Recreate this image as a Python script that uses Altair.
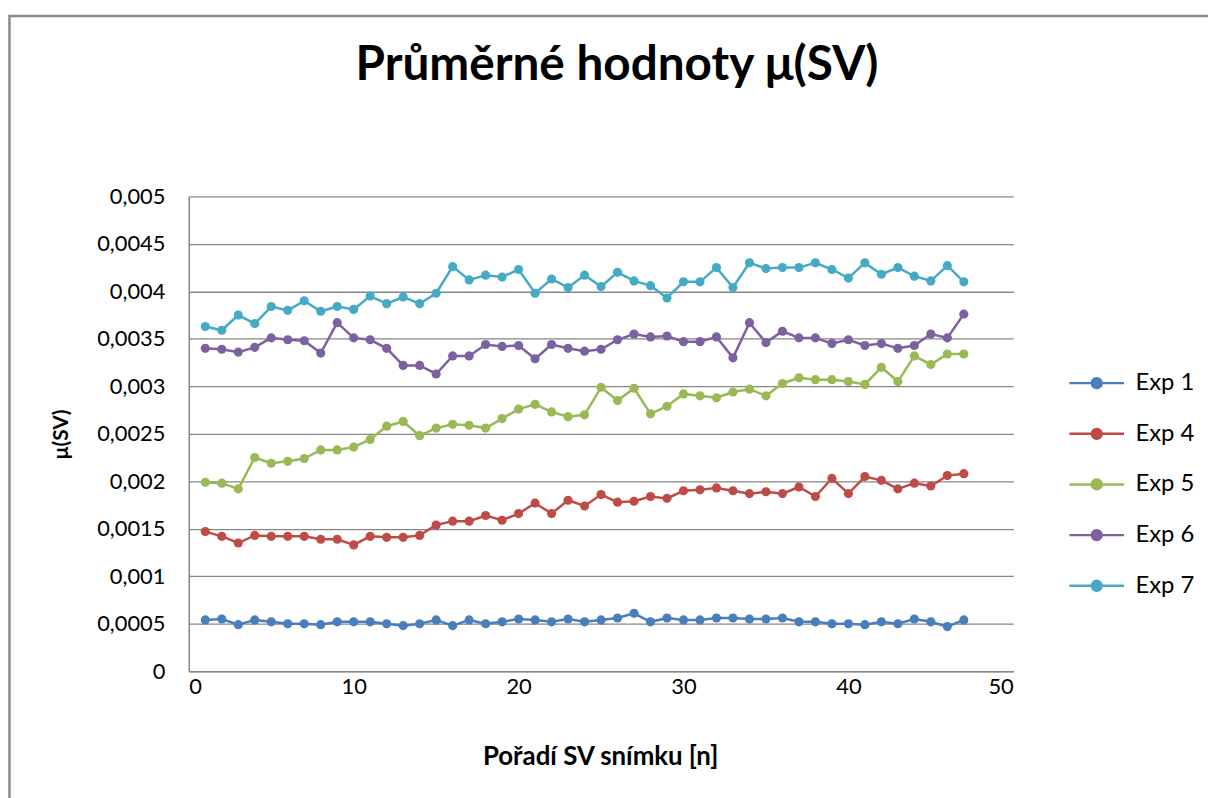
import altair as alt
import pandas as pd

frames = list(range(1, 48))

exp1 = [0.00054, 0.00055, 0.00049, 0.00054, 0.00052, 0.00050, 0.00050, 0.00049, 0.00052, 0.00052,
        0.00052, 0.00050, 0.00048, 0.00050, 0.00054, 0.00048, 0.00054, 0.00050, 0.00052, 0.00055,
        0.00054, 0.00052, 0.00055, 0.00052, 0.00054, 0.00056, 0.00061, 0.00052, 0.00056, 0.00054,
        0.00054, 0.00056, 0.00056, 0.00055, 0.00055, 0.00056, 0.00052, 0.00052, 0.00050, 0.00050,
        0.00049, 0.00052, 0.00050, 0.00055, 0.00052, 0.00047, 0.00054]
exp4 = [0.00147, 0.00142, 0.00135, 0.00143, 0.00142, 0.00142, 0.00142, 0.00139, 0.00139, 0.00133,
        0.00142, 0.00141, 0.00141, 0.00143, 0.00154, 0.00158, 0.00158, 0.00164, 0.00159, 0.00166,
        0.00177, 0.00166, 0.00180, 0.00174, 0.00186, 0.00178, 0.00179, 0.00184, 0.00182, 0.00190,
        0.00191, 0.00193, 0.00190, 0.00187, 0.00189, 0.00187, 0.00194, 0.00184, 0.00203, 0.00187,
        0.00205, 0.00201, 0.00192, 0.00198, 0.00195, 0.00206, 0.00208]
exp5 = [0.00199, 0.00198, 0.00192, 0.00225, 0.00219, 0.00221, 0.00224, 0.00233, 0.00233, 0.00236,
        0.00244, 0.00258, 0.00263, 0.00248, 0.00256, 0.00260, 0.00259, 0.00256, 0.00266, 0.00276,
        0.00281, 0.00273, 0.00268, 0.00270, 0.00299, 0.00285, 0.00298, 0.00271, 0.00279, 0.00292,
        0.00290, 0.00288, 0.00294, 0.00297, 0.00290, 0.00303, 0.00309, 0.00307, 0.00307, 0.00305,
        0.00302, 0.00320, 0.00305, 0.00332, 0.00323, 0.00334, 0.00334]
exp6 = [0.00340, 0.00339, 0.00336, 0.00341, 0.00351, 0.00349, 0.00348, 0.00335, 0.00367, 0.00351,
        0.00349, 0.00340, 0.00322, 0.00322, 0.00313, 0.00332, 0.00332, 0.00344, 0.00342, 0.00343,
        0.00329, 0.00344, 0.00340, 0.00337, 0.00339, 0.00349, 0.00355, 0.00352, 0.00353, 0.00347,
        0.00347, 0.00352, 0.00330, 0.00367, 0.00346, 0.00358, 0.00351, 0.00351, 0.00345, 0.00349,
        0.00343, 0.00345, 0.00340, 0.00343, 0.00355, 0.00351, 0.00376]
exp7 = [0.00363, 0.00359, 0.00375, 0.00366, 0.00384, 0.00380, 0.00390, 0.00379, 0.00384, 0.00381,
        0.00395, 0.00387, 0.00394, 0.00387, 0.00398, 0.00426, 0.00412, 0.00417, 0.00415, 0.00423,
        0.00398, 0.00413, 0.00404, 0.00417, 0.00405, 0.00420, 0.00411, 0.00406, 0.00393, 0.00410,
        0.00410, 0.00425, 0.00404, 0.00430, 0.00424, 0.00425, 0.00425, 0.00430, 0.00423, 0.00414,
        0.00430, 0.00418, 0.00425, 0.00416, 0.00411, 0.00427, 0.00410]

series_names = ["Exp 1", "Exp 4", "Exp 5", "Exp 6", "Exp 7"]
series_values = [exp1, exp4, exp5, exp6, exp7]
series_colors = ["#4A7EBB", "#BE4B48", "#98B954", "#7D60A0", "#46AAC5"]

y_ticks = [0, 0.0005, 0.001, 0.0015, 0.002, 0.0025, 0.003, 0.0035, 0.004, 0.0045, 0.005]
x_ticks = [0, 10, 20, 30, 40, 50]

rows = []
for name, vals in zip(series_names, series_values):
    for f, v in zip(frames, vals):
        rows.append({"frame": f, "value": v, "series": name})
df = pd.DataFrame(rows)

FONT = "Lato"
W, H = 830, 478

legend_path = "M-2,0L2,0M-0.36,0A0.36,0.36 0 1,0 0.36,0A0.36,0.36 0 1,0 -0.36,0"

lines = alt.Chart(df).mark_line(
    strokeWidth=2.5,
    point=alt.OverlayMarkDef(filled=True, size=85, opacity=1),
).encode(
    x=alt.X("frame:Q",
            scale=alt.Scale(domain=[0, 50], nice=False, zero=False),
            axis=alt.Axis(values=x_ticks, title="Pořadí SV snímku [n]",
                          titleX=W / 2 - 1, titleY=86, titleBaseline="middle",
                          titleAnchor="middle", titleFontSize=26)),
    y=alt.Y("value:Q",
            scale=alt.Scale(domain=[0, 0.005], nice=False),
            axis=alt.Axis(values=y_ticks, title="μ(SV)", format="~g",
                          labelExpr="replace(datum.label, '.', ',')",
                          titleX=-128, titleY=H / 2, titleBaseline="middle",
                          titleAnchor="middle")),
    color=alt.Color("series:N",
                    scale=alt.Scale(domain=series_names, range=series_colors),
                    legend=alt.Legend(
                        title=None, orient="none", legendX=899, legendY=173,
                        symbolType=legend_path, symbolSize=756,
                        symbolStrokeWidth=2.5, rowPadding=24, labelOffset=24,
                        padding=0, labelFontSize=24, labelFont=FONT,
                        labelColor="#000000", symbolOpacity=1,
                    )),
)

frame_border = alt.Chart(alt.Data(values=[{}])).mark_rect(
    fill=None, stroke="#8a8a8a", strokeWidth=2.5, clip=False
).encode(
    x=alt.value(-180.5), y=alt.value(-181.5), x2=alt.value(W + 400), y2=alt.value(H + 400)
)

chart = alt.layer(frame_border, lines).properties(
    width=W, height=H,
    autosize=alt.AutoSizeParams(type="none"),
    padding={"left": 182, "top": 187, "right": 196, "bottom": 125},
    background="white",
    title=alt.TitleParams("Průměrné hodnoty μ(SV)", font=FONT, fontSize=48,
                          fontWeight="bold", color="#000000", anchor="middle",
                          frame="group", baseline="alphabetic",
                          offset=0, dy=114, dx=16),
).configure_view(stroke=None).configure_axis(
    labelFont=FONT, labelFontSize=22, labelColor="#000000",
    titleFont=FONT, titleFontSize=21, titleFontWeight="bold", titleColor="#000000",
    domainColor="#868686", domainWidth=1.5, ticks=False,
    gridColor="#868686", gridWidth=1.3,
).configure_axisX(grid=False, labelPadding=5).configure_axisY(labelPadding=24)

chart.save("out.html", embed_options={"renderer": "svg", "actions": False})
